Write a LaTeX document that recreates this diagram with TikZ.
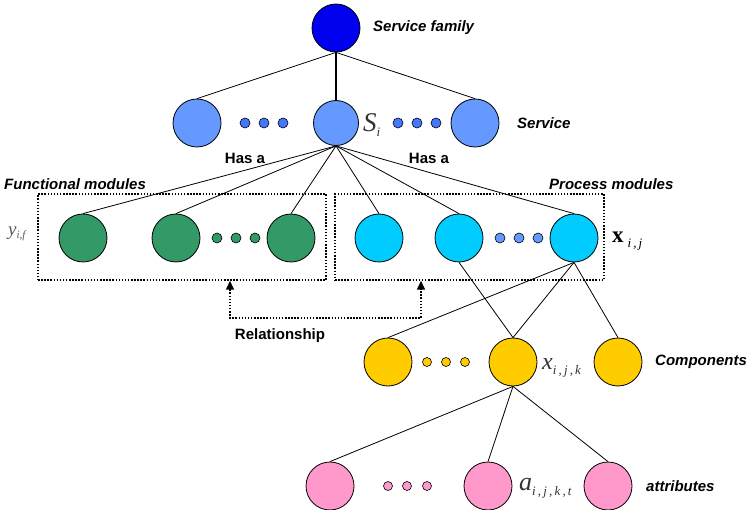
\documentclass[tikz,border=0pt]{standalone}
\usepackage{fontspec}
\setmainfont{Liberation Sans}
\newfontfamily\mathserif{Liberation Serif}
\usetikzlibrary{arrows.meta}

\definecolor{famblue}{HTML}{0000EE}
\definecolor{srvblue}{HTML}{6699FF}
\definecolor{dotblue}{HTML}{4477FF}
\definecolor{modgreen}{HTML}{339966}
\definecolor{modcyan}{HTML}{00CCFF}
\definecolor{compyellow}{HTML}{FFCC00}
\definecolor{attrpink}{HTML}{FF99CC}
\definecolor{symgray}{HTML}{333333}

\newcommand{\idx}[1]{\raisebox{-5pt}{\fontsize{13}{13}\selectfont\mdseries\itshape #1}}

\begin{document}
\begin{tikzpicture}[x=1pt,y=-1pt,
  ball/.style={circle,draw,line width=0.8pt,minimum size=48pt,inner sep=0pt},
  smalldot/.style={circle,draw,line width=0.6pt,minimum size=10pt,inner sep=0pt},
  tinydot/.style={circle,draw,line width=0.6pt,minimum size=9pt,inner sep=0pt},
  link/.style={line width=0.8pt},
  caption/.style={font=\fontsize{15}{17}\selectfont\bfseries\itshape,anchor=west,inner sep=0pt},
  plain/.style={font=\fontsize{15}{17}\selectfont\bfseries,inner sep=0pt},
  sym/.style={font=\mathserif\fontsize{25}{27}\selectfont\itshape,text=symgray,anchor=base west,inner sep=0pt},
  groupbox/.style={draw,line width=1.5pt,dash pattern=on 1.5pt off 1.6pt,inner sep=0pt},
  relarrow/.style={line width=1.5pt,dash pattern=on 1.5pt off 1.6pt,
    {Triangle[length=9pt,width=8pt]}-{Triangle[length=9pt,width=8pt]}}
]
\useasboundingbox (0,0) rectangle (749,510);

% dotted group frames
\node[groupbox,minimum width=288pt,minimum height=86pt] (fbox) at (182,237) {};
\node[groupbox,minimum width=269pt,minimum height=86pt] (pbox) at (469.5,237) {};

% service family and services
\node[ball,fill=famblue] (fam) at (336,28) {};
\node[ball,fill=srvblue] (s1) at (197,123) {};
\node[ball,fill=srvblue,minimum size=45pt] (si) at (336,123) {};
\node[ball,fill=srvblue] (s3) at (475,123) {};
\foreach \x in {245,264,283,398,417,436}
  \node[smalldot,fill=dotblue] at (\x,123) {};

% functional modules
\node[ball,fill=modgreen] (f1) at (83,238) {};
\node[ball,fill=modgreen] (f2) at (176,238) {};
\node[ball,fill=modgreen] (f3) at (291,238) {};
\foreach \x in {217,236,255}
  \node[smalldot,fill=modgreen] at (\x,238) {};

% process modules
\node[ball,fill=modcyan] (p1) at (379,238) {};
\node[ball,fill=modcyan] (p2) at (459,238) {};
\node[ball,fill=modcyan] (p3) at (574,238) {};
\foreach \x in {500,519,538}
  \node[smalldot,fill=srvblue] at (\x,238) {};

% components
\node[ball,fill=compyellow] (c1) at (388,362) {};
\node[ball,fill=compyellow] (c2) at (513,362) {};
\node[ball,fill=compyellow] (c3) at (618,362) {};
\foreach \x in {427,446,465}
  \node[tinydot,fill=compyellow] at (\x,362) {};

% attributes
\node[ball,fill=attrpink] (a1) at (330,486) {};
\node[ball,fill=attrpink] (a2) at (488,486) {};
\node[ball,fill=attrpink] (a3) at (608,486) {};
\foreach \x in {388,407,427}
  \node[tinydot,fill=attrpink] at (\x,486) {};

% tree edges
\draw[link] (fam.south) -- (s1.north);
\draw[link] (fam.south) -- (s3.north);
\draw[line width=1.8pt] (fam.south) -- (si.north);
\foreach \t in {f1,f2,f3,p1,p2,p3}
  \draw[link] (si.south) -- (\t.north);
\draw[link] (p2.south) -- (c2.north);
\foreach \t in {c1,c2,c3}
  \draw[link] (p3.south) -- (\t.north);
\foreach \t in {a1,a2,a3}
  \draw[link] (c2.south) -- (\t.north);

% relationship between the two groups
\coordinate (relL) at (230,318);
\coordinate (relR) at (421,318);
\draw[relarrow] (fbox.south -| relL) -- (relL) -- (relR) -- (pbox.south -| relR);
\node[plain] (rel) at (280,336) {Relationship};

% captions
\node[caption] (capfam) at (373,28) {Service family};
\node[caption] (capsrv) at (517,123) {Service};
\node[caption] (capfun) at (4,184) {Functional modules};
\node[caption] (capproc) at (549,184) {Process modules};
\node[caption] (capcomp) at (655,362) {Components};
\node[caption] (capattr) at (646,486) {attributes};
\node[plain] (hasL) at (245,158) {Has a};
\node[plain] (hasR) at (429,158) {Has a};

% symbols
\node[sym,font=\mathserif\fontsize{27}{29}\selectfont\itshape] (symS) at (363,132) {S\idx{i}};
\node[sym,font=\mathserif\fontsize{19}{21}\selectfont\itshape,text=black!65] (symY) at (8,236)
  {y\raisebox{-3pt}{\fontsize{11}{11}\selectfont\itshape i,f}};
\node[sym,font=\mathserif\fontsize{23}{25}\selectfont\bfseries,text=black] (symX) at (612,243)
  {x\,\idx{i\,,\,j}};
\node[sym,font=\mathserif\fontsize{24}{26}\selectfont\itshape] (symXk) at (542,369) {x\idx{i\,,\,j\,,\,k}};
\node[sym,font=\mathserif\fontsize{26}{28}\selectfont\itshape] (symA) at (519,490) {a\idx{i\,,\,j\,,\,k\,,\,t}};
\end{tikzpicture}
\end{document}
